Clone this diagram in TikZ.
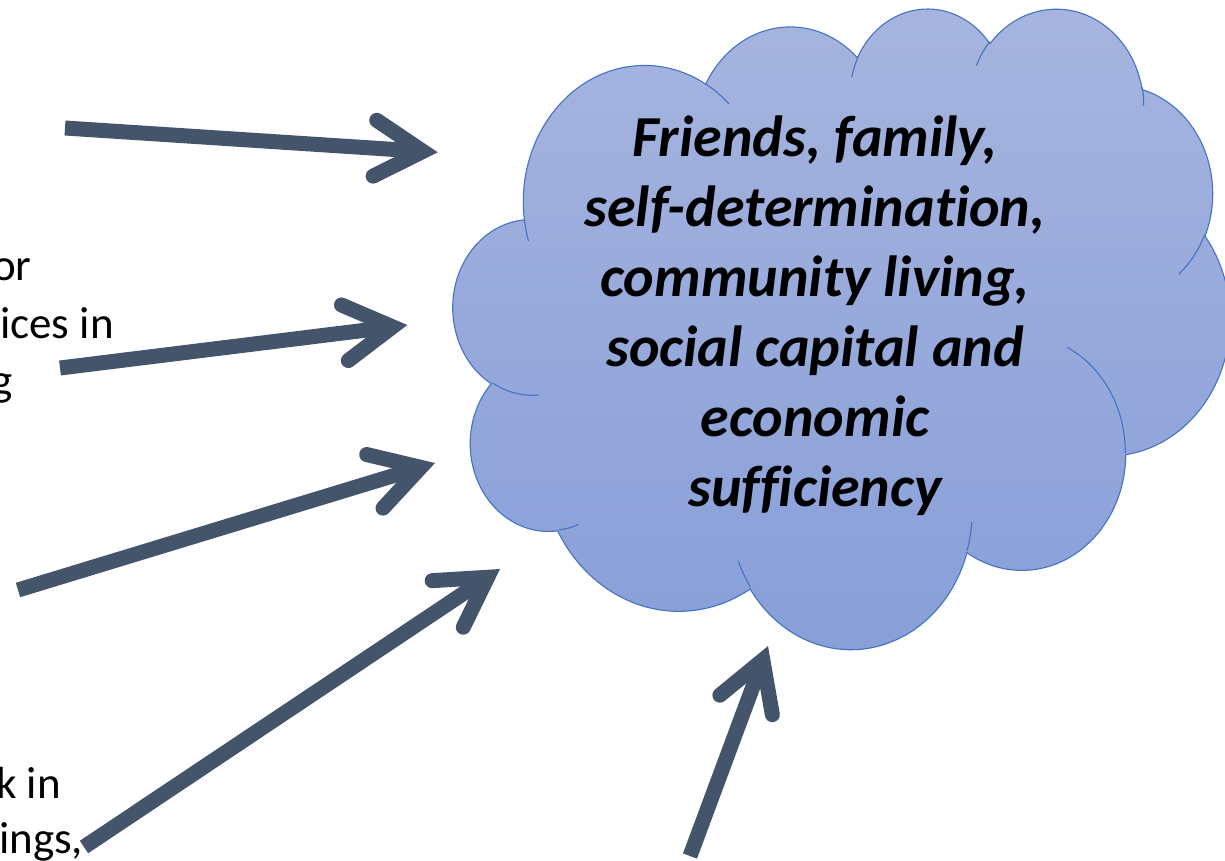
\documentclass[tikz,border=0pt]{standalone}
\usepackage{fontspec}
\setmainfont{Carlito}[Ligatures=NoCommon]
\usetikzlibrary{arrows.meta}
\definecolor{cloudtop}{HTML}{A7B5DF}
\definecolor{cloudbottom}{HTML}{879ED8}
\definecolor{cloudline}{HTML}{4472C4}
\definecolor{arrowgray}{HTML}{44546A}
\begin{document}
\begin{tikzpicture}[x=1pt,y=-1pt,
	puff/.style={draw=cloudline,line width=1.1pt},
	pointer/.style={draw=arrowgray,line width=15pt,
		-{Straight Barb[length=48pt,width=56pt,line cap=round,line join=miter]}},
	goaltext/.style={align=center,inner sep=0pt,
		font=\fontsize{58}{70}\selectfont\bfseries\itshape},
	sidetext/.style={anchor=base west,inner sep=0pt,
		font=\fontsize{45}{57}\selectfont}]
\useasboundingbox (0,0) rectangle (1225,860);
\begin{scope}[shift={(454.4,7)},x=1.795pt,y=-1.4825pt]
\path[puff,top color=cloudtop,bottom color=cloudbottom] (39.00,143.70)
	arc[start angle=172.25,end angle=300.36,x radius=67.53,y radius=91.90]
	arc[start angle=-152.03,end angle=-45.48,x radius=53.33,y radius=72.67]
	arc[start angle=-153.49,end angle=-37.32,x radius=43.65,y radius=59.45]
	arc[start angle=-139.71,end angle=-10.21,x radius=48.57,y radius=65.95]
	arc[start angle=-74.77,end angle=23.21,x radius=53.33,y radius=72.73]
	arc[start angle=-37.52,end angle=81.86,x radius=67.75,y radius=92.20]
	arc[start angle=0.46,end angle=121.98,x radius=57.85,y radius=78.67]
	arc[start angle=16.84,end angle=146.25,x radius=67.52,y radius=92.15]
	arc[start angle=58.99,end angle=151.0,x radius=77.20,y radius=105.43]
	arc[start angle=83.30,end angle=223.09,x radius=43.60,y radius=59.18]
	arc[start angle=120.36,end angle=264.11,x radius=43.45,y radius=59.45]
	-- cycle;
\draw[puff] (46.93,261.77) arc[start angle=85.55,end angle=120.36,x radius=43.45,y radius=59.45]
	(69.28,348.99) arc[start angle=68.24,end angle=83.30,x radius=43.60,y radius=59.18]
	(164.78,390.90) arc[start angle=146.25,end angle=158.48,x radius=67.52,y radius=92.15]
	(288.27,347.51) arc[start angle=4.74,end angle=16.84,x radius=67.52,y radius=92.15]
	(341.29,229.54) arc[start angle=-63.98,end angle=0.46,x radius=57.85,y radius=78.67]
	(417.98,153.54) arc[start angle=23.21,end angle=49.67,x radius=53.33,y radius=72.73]
	(383.24,54.26) arc[start angle=-10.21,end angle=0.82,x radius=48.57,y radius=65.95]
	(290.78,39.52) arc[start angle=-156.28,end angle=-139.71,x radius=48.57,y radius=65.95]
	(221.41,47.20) arc[start angle=-167.73,end angle=-153.49,x radius=43.65,y radius=59.45]
	(140.00,51.92) arc[start angle=-59.64,end angle=-45.73,x radius=67.53,y radius=91.90]
	(41.27,157.89) arc[start angle=163.19,end angle=172.25,x radius=67.53,y radius=91.90];
\end{scope}
\node[goaltext] (goal) at (815,316) {Friends, family,\\self-determination,\\community living,\\social capital and\\economic\\sufficiency};
\node[sidetext] (left1) at (-8,280) {or};
\node[sidetext] (left2) at (0,338) {ices in};
\node[sidetext] (left3) at (-9,395) {g};
\node[sidetext] (left4) at (-4,798) {k in};
\node[sidetext] (left5) at (-1,853) {ings,};
\coordinate (tail1) at (65,128);
\coordinate (tip1) at (437.7,152.3);
\coordinate (tail2) at (60,368);
\coordinate (tip2) at (407.3,325);
\coordinate (tail3) at (18,590);
\coordinate (tip3) at (435,463);
\coordinate (tail4) at (84,847);
\coordinate (tip4) at (500,569);
\coordinate (tail5) at (690,856);
\coordinate (tip5) at (768,646);
\draw[pointer] (tail1) -- (tip1);
\draw[pointer] (tail2) -- (tip2);
\draw[pointer] (tail3) -- (tip3);
\draw[pointer] (tail4) -- (tip4);
\draw[pointer] (tail5) -- (tip5);
\end{tikzpicture}
\end{document}
